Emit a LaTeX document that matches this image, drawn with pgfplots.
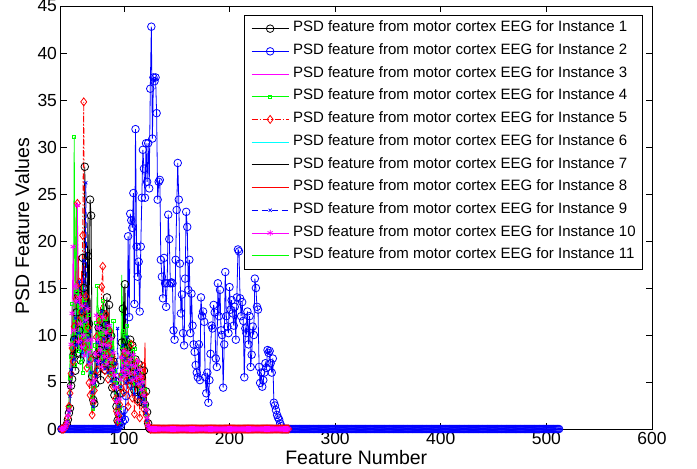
\documentclass[border=0pt]{standalone}
\usepackage{fontspec}
\setmainfont{Liberation Sans}
\usepackage{pgfplots}
\pgfplotsset{compat=1.18}
\usepackage{pgfplotstable}
\definecolor{mblack}{rgb}{0,0,0}
\definecolor{mblue}{rgb}{0,0,1}
\definecolor{mmag}{rgb}{1,0,1}
\definecolor{mgreen}{rgb}{0,1,0}
\definecolor{mred}{rgb}{1,0,0}
\definecolor{mcyan}{rgb}{0,1,1}

\pgfplotstableread[row sep=\\]{x y\\
125 0\\126 0\\127 0\\128 0\\129 0\\130 0\\131 0\\132 0\\133 0\\134 0\\
135 0\\136 0\\137 0\\138 0\\139 0\\140 0\\141 0\\142 0\\143 0\\144 0\\
145 0\\146 0\\147 0\\148 0\\149 0\\150 0\\151 0\\152 0\\153 0\\154 0\\
155 0\\156 0\\157 0\\158 0\\159 0\\160 0\\161 0\\162 0\\163 0\\164 0\\
165 0\\166 0\\167 0\\168 0\\169 0\\170 0\\171 0\\172 0\\173 0\\174 0\\
175 0\\176 0\\177 0\\178 0\\179 0\\180 0\\181 0\\182 0\\183 0\\184 0\\
185 0\\186 0\\187 0\\188 0\\189 0\\190 0\\191 0\\192 0\\193 0\\194 0\\
195 0\\196 0\\197 0\\198 0\\199 0\\200 0\\201 0\\202 0\\203 0\\204 0\\
205 0\\206 0\\207 0\\208 0\\209 0\\210 0\\211 0\\212 0\\213 0\\214 0\\
215 0\\216 0\\217 0\\218 0\\219 0\\220 0\\221 0\\222 0\\223 0\\224 0\\
225 0\\226 0\\227 0\\228 0\\229 0\\230 0\\231 0\\232 0\\233 0\\234 0\\
235 0\\236 0\\237 0\\238 0\\239 0\\240 0\\241 0\\242 0\\243 0\\244 0\\
245 0\\246 0\\247 0\\248 0\\249 0\\250 0\\251 0\\252 0\\253 0\\254 0\\
255 0\\256 0\\
}\zerotail

\pgfplotstableread[row sep=\\]{x y\\
250 0\\251 0\\252 0\\253 0\\254 0\\255 0\\256 0\\257 0\\258 0\\259 0\\
260 0\\261 0\\262 0\\263 0\\264 0\\265 0\\266 0\\267 0\\268 0\\269 0\\
270 0\\271 0\\272 0\\273 0\\274 0\\275 0\\276 0\\277 0\\278 0\\279 0\\
280 0\\281 0\\282 0\\283 0\\284 0\\285 0\\286 0\\287 0\\288 0\\289 0\\
290 0\\291 0\\292 0\\293 0\\294 0\\295 0\\296 0\\297 0\\298 0\\299 0\\
300 0\\301 0\\302 0\\303 0\\304 0\\305 0\\306 0\\307 0\\308 0\\309 0\\
310 0\\311 0\\312 0\\313 0\\314 0\\315 0\\316 0\\317 0\\318 0\\319 0\\
320 0\\321 0\\322 0\\323 0\\324 0\\325 0\\326 0\\327 0\\328 0\\329 0\\
330 0\\331 0\\332 0\\333 0\\334 0\\335 0\\336 0\\337 0\\338 0\\339 0\\
340 0\\341 0\\342 0\\343 0\\344 0\\345 0\\346 0\\347 0\\348 0\\349 0\\
350 0\\351 0\\352 0\\353 0\\354 0\\355 0\\356 0\\357 0\\358 0\\359 0\\
360 0\\361 0\\362 0\\363 0\\364 0\\365 0\\366 0\\367 0\\368 0\\369 0\\
370 0\\371 0\\372 0\\373 0\\374 0\\375 0\\376 0\\377 0\\378 0\\379 0\\
380 0\\381 0\\382 0\\383 0\\384 0\\385 0\\386 0\\387 0\\388 0\\389 0\\
390 0\\391 0\\392 0\\393 0\\394 0\\395 0\\396 0\\397 0\\398 0\\399 0\\
400 0\\401 0\\402 0\\403 0\\404 0\\405 0\\406 0\\407 0\\408 0\\409 0\\
410 0\\411 0\\412 0\\413 0\\414 0\\415 0\\416 0\\417 0\\418 0\\419 0\\
420 0\\421 0\\422 0\\423 0\\424 0\\425 0\\426 0\\427 0\\428 0\\429 0\\
430 0\\431 0\\432 0\\433 0\\434 0\\435 0\\436 0\\437 0\\438 0\\439 0\\
440 0\\441 0\\442 0\\443 0\\444 0\\445 0\\446 0\\447 0\\448 0\\449 0\\
450 0\\451 0\\452 0\\453 0\\454 0\\455 0\\456 0\\457 0\\458 0\\459 0\\
460 0\\461 0\\462 0\\463 0\\464 0\\465 0\\466 0\\467 0\\468 0\\469 0\\
470 0\\471 0\\472 0\\473 0\\474 0\\475 0\\476 0\\477 0\\478 0\\479 0\\
480 0\\481 0\\482 0\\483 0\\484 0\\485 0\\486 0\\487 0\\488 0\\489 0\\
490 0\\491 0\\492 0\\493 0\\494 0\\495 0\\496 0\\497 0\\498 0\\499 0\\
500 0\\501 0\\502 0\\503 0\\504 0\\505 0\\506 0\\507 0\\508 0\\509 0\\
510 0\\511 0\\512 0\\
}\bluetail

\begin{document}
\begin{tikzpicture}
\begin{axis}[
  scale only axis, width=591.5pt, height=423pt,
  xmin=40, xmax=600, ymin=0, ymax=45,
  xtick={100,200,300,400,500,600},
  ytick={0,5,10,15,20,25,30,35,40,45},
  tick align=inside, major tick length=6pt,
  axis line style={line width=0.6pt},
  every tick/.style={black, line width=0.6pt},
  /pgf/number format/assume math mode=true,
  tick label style={font=\fontsize{17.5}{20}\selectfont},
  xlabel={Feature Number}, ylabel={PSD Feature Values},
  label style={font=\fontsize{19.5}{22}\selectfont},
  xlabel style={at={(axis description cs:0.5,-0.068)}, anchor=center},
  ylabel style={at={(axis description cs:-0.065,0.48)}, anchor=center},
  legend cell align=left,
  legend image code/.code={\draw[mark repeat=2,mark phase=2,#1] plot coordinates {(0pt,0pt) (18.5pt,0pt) (37pt,0pt)};},
  legend style={at={(1,1)}, anchor=north east, xshift=-9pt, yshift=-9pt,
    draw=black, line width=0.6pt, fill=white,
    font=\fontsize{15}{18}\selectfont,
    inner xsep=7pt, inner ysep=2pt, row sep=0pt, column sep=4pt,
    nodes={inner xsep=0pt, inner ysep=0pt, text height=14.5pt, text depth=8.2pt}},
  every axis plot/.append style={line width=0.8pt},
]
% Instance 1
\addplot[mblack, mark=o, mark size=3.8pt] coordinates {(41,0)(42,0)(43,0)(44,0.1)(45,0.2)(46,0.5)(47,1.0)(48,1.7)(49,2.2)(50,4.6)(51,5.3)(52,7.8)(53,9.5)(54,6.2)(55,12.4)(56,8.1)(57,14.2)(58,10.5)(59,7.3)(60,11.8)(61,18.2)(62,15.0)(63,27.9)(64,12.6)(65,9.8)(66,18.4)(67,11.2)(68,24.4)(69,22.7)(70,5.6)(71,3.1)(72,2.7)(73,4.8)(74,7.9)(75,6.1)(76,10.8)(77,8.4)(78,5.2)(79,12.3)(80,7.7)(81,9.6)(82,6.3)(83,11.1)(84,14.0)(85,8.8)(86,13.2)(87,6.5)(88,9.9)(89,4.4)(90,7.2)(91,3.6)(92,5.1)(93,2.4)(94,0.9)(95,1.6)(96,0.7)(97,3.8)(98,9.2)(99,12.8)(100,8.6)(101,15.4)(102,9.4)(103,6.1)(104,8.7)(105,7.3)(106,9.5)(107,5.2)(108,8.9)(109,6.6)(110,4.1)(111,7.4)(112,5.8)(113,3.2)(114,6.9)(115,4.7)(116,2.9)(117,5.5)(118,3.7)(119,6.2)(120,2.6)(121,4.0)(122,1.8)(123,0.6)(124,0.1)(125,0)};
\addlegendentry{PSD feature from motor cortex EEG for Instance 1}
\addplot[mblack, mark=o, mark size=3.8pt, forget plot] table {\zerotail};
% Instance 2
\addplot[mblue, mark=o, mark size=3.8pt] coordinates {(41,0)(42,0)(43,0)(44,0)(45,0)(46,0)(47,0)(48,0)(49,0)(50,0)
(51,0)(52,0)(53,0)(54,0)(55,0)(56,0)(57,0)(58,0)(59,0)(60,0)
(61,0)(62,0)(63,0)(64,0)(65,0)(66,0)(67,0)(68,0)(69,0)(70,0)
(71,0)(72,0)(73,0)(74,0)(75,0)(76,0)(77,0)(78,0)(79,0)(80,0)
(81,0)(82,0)(83,0)(84,0)(85,0)(86,0)(87,0)(88,0)(89,0)(90,0)
(91,0)(92,0)(93,0)(94,0)
(95,0.3)(96,0.6)(97,0.4)(98,1.2)(99,0.8)(100,2.0)(101,1.0)(102,3.5)(103,7.0)(104,20.5)
(105,11.9)(106,22.9)(107,22.2)(108,21.4)(109,25.1)(110,13.3)(111,31.9)(112,19.4)(113,16.2)(114,17.8)
(115,12.5)(116,19.4)(117,24.6)(118,29.7)(119,27.7)(120,24.6)(121,30.4)(122,26.3)(123,30.4)(124,25.6)
(125,36.2)(126,42.8)(127,30.9)(128,37.4)(129,37.0)(130,37.4)(131,33.6)(132,24.4)(133,26.3)(134,26.5)
(135,18.0)(136,16.2)(137,13.9)(138,18.2)(139,15.5)(140,13.0)(141,15.5)(142,22.8)(143,20.2)(144,15.5)
(145,15.6)(146,15.5)(147,10.5)(148,9.5)(149,18.0)(150,23.3)(151,28.3)(152,24.4)(153,17.6)(154,12.3)
(155,14.3)(156,10.2)(157,8.9)(158,16.0)(159,23.1)(160,21.5)(161,14.8)(162,18.0)(163,10.2)(164,14.4)
(165,11.0)(166,9.0)(167,8.2)(168,6.8)(169,6.0)(170,5.5)(171,9.0)(172,5.2)(173,14.0)(174,12.0)
(175,12.5)(176,11.4)(177,5.5)(178,3.8)(179,6.0)(180,2.8)(181,5.2)(182,8.0)(183,11.0)(184,10.7)
(185,13.2)(186,12.4)(187,7.5)(188,6.6)(189,15.5)(190,12.0)(191,14.8)(192,10.5)(193,10.0)(194,4.4)
(195,9.0)(196,16.7)(197,12.0)(198,10.9)(199,10.2)(200,15.1)(201,12.7)(202,13.7)(203,12.3)(204,11.0)
(205,13.0)(206,9.5)(207,14.0)(208,19.1)(209,18.9)(210,13.9)(211,12.0)(212,13.5)(213,11.5)(214,5.5)
(215,10.7)(216,10.2)(217,12.5)(218,9.0)(219,12.0)(220,6.6)(221,7.9)(222,10.9)(223,10.0)(224,16.0)
(225,15.0)(226,13.0)(227,12.7)(228,6.6)(229,4.9)(230,6.0)(231,4.5)(232,5.2)(233,6.0)(234,7.0)
(235,6.5)(236,8.4)(237,8.1)(238,8.3)(239,7.0)(240,6.0)(241,7.5)(242,2.8)(243,2.5)(244,2.0)
(245,1.5)(246,1.2)(247,1.0)(248,0.6)(249,0.3)(250,0)};
\addlegendentry{PSD feature from motor cortex EEG for Instance 2}
\addplot[mblue, mark=o, mark size=3.8pt, forget plot] table {\bluetail};
% Instance 3
\addplot[mmag] coordinates {(41,0)(42,0)(43,0)(44,0)(45,0.1)(46,0.3)(47,0.8)(48,1.5)(49,3.2)(50,6.1)(51,9.0)(52,11.7)(53,8.4)(54,16.5)(55,13.1)(56,21.6)(57,12.2)(58,9.7)(59,14.8)(60,10.3)(61,16.1)(62,8.9)(63,13.5)(64,11.0)(65,7.6)(66,12.7)(67,9.1)(68,6.4)(69,8.8)(70,4.2)(71,2.6)(72,3.9)(73,6.8)(74,9.4)(75,7.1)(76,12.1)(77,8.2)(78,10.6)(79,6.9)(80,11.5)(81,8.0)(82,12.6)(83,7.4)(84,9.7)(85,5.9)(86,10.2)(87,7.8)(88,8.6)(89,6.0)(90,4.7)(91,6.4)(92,3.9)(93,2.1)(94,3.3)(95,1.2)(96,2.0)(97,4.1)(98,6.3)(99,8.1)(100,5.4)(101,9.0)(102,6.7)(103,7.9)(104,5.1)(105,8.3)(106,6.2)(107,7.1)(108,4.8)(109,7.8)(110,6.0)(111,5.3)(112,7.2)(113,4.6)(114,6.5)(115,5.7)(116,3.9)(117,6.1)(118,4.4)(119,3.5)(120,2.7)(121,2.0)(122,1.1)(123,0.4)(124,0.1)(125,0)};
\addlegendentry{PSD feature from motor cortex EEG for Instance 3}
\addplot[mmag, forget plot] table {\zerotail};
% Instance 4
\addplot[mgreen, mark=square, mark size=1.6pt] coordinates {(41,0)(42,0)(43,0)(44,0)(45,0.2)(46,0.4)(47,0.9)(48,2.2)(49,5.5)(50,7.7)(51,13.3)(52,9.4)(53,31.1)(54,6.8)(55,14.6)(56,10.2)(57,8.3)(58,12.9)(59,7.1)(60,9.8)(61,6.0)(62,11.4)(63,13.7)(64,8.5)(65,10.9)(66,6.7)(67,12.1)(68,8.3)(69,5.9)(70,3.4)(71,2.2)(72,4.6)(73,8.9)(74,11.3)(75,15.2)(76,9.6)(77,12.4)(78,7.3)(79,10.1)(80,13.6)(81,8.2)(82,6.9)(83,11.7)(84,9.0)(85,7.5)(86,10.6)(87,5.8)(88,9.2)(89,7.1)(90,11.5)(91,6.2)(92,4.9)(93,3.0)(94,1.8)(95,0.8)(96,2.3)(97,5.6)(98,8.7)(99,10.4)(100,7.2)(101,9.9)(102,6.4)(103,11.0)(104,8.1)(105,6.9)(106,9.3)(107,5.6)(108,7.8)(109,6.2)(110,8.5)(111,4.9)(112,7.0)(113,5.5)(114,6.6)(115,4.3)(116,5.9)(117,3.8)(118,5.0)(119,3.1)(120,4.2)(121,2.4)(122,1.3)(123,0.5)(124,0.1)(125,0)};
\addlegendentry{PSD feature from motor cortex EEG for Instance 4}
\addplot[mgreen, mark=square, mark size=1.6pt, forget plot] table {\zerotail};
% Instance 5
\addplot[mred, dash pattern=on 6pt off 2pt on 1.5pt off 2pt, mark=diamond, mark size=4pt, mark options={solid}] coordinates {(41,0)(42,0)(43,0)(44,0.1)(45,0.3)(46,0.6)(47,1.2)(48,2.4)(49,3.8)(50,5.9)(51,8.6)(52,7.2)(53,10.9)(54,9.1)(55,13.8)(56,24.0)(57,11.5)(58,15.6)(59,9.3)(60,12.4)(61,20.6)(62,34.8)(63,8.7)(64,14.1)(65,6.5)(66,10.8)(67,4.9)(68,3.6)(69,7.4)(70,1.5)(71,2.8)(72,4.1)(73,5.7)(74,9.8)(75,6.3)(76,8.1)(77,11.6)(78,7.0)(79,15.1)(80,17.3)(81,9.4)(82,6.2)(83,12.2)(84,7.9)(85,5.3)(86,8.8)(87,10.4)(88,6.1)(89,7.7)(90,4.5)(91,6.9)(92,3.2)(93,1.9)(94,0.8)(95,1.4)(96,2.6)(97,4.4)(98,5.8)(99,7.6)(100,3.9)(101,8.2)(102,5.1)(103,6.8)(104,2.4)(105,7.5)(106,4.6)(107,9.0)(108,3.3)(109,6.1)(110,1.6)(111,5.4)(112,7.1)(113,2.9)(114,4.8)(115,1.2)(116,5.6)(117,3.4)(118,6.7)(119,2.1)(120,3.7)(121,1.5)(122,0.8)(123,0.3)(124,0.1)(125,0)};
\addlegendentry{PSD feature from motor cortex EEG for Instance 5}
\addplot[mred, dash pattern=on 6pt off 2pt on 1.5pt off 2pt, mark=diamond, mark size=4pt, mark options={solid}, forget plot] table {\zerotail};
% Instance 6
\addplot[mcyan] coordinates {(41,0)(42,0)(43,0)(44,0)(45,0.1)(46,0.3)(47,0.7)(48,1.6)(49,3.0)(50,5.2)(51,7.9)(52,10.6)(53,8.3)(54,12.8)(55,9.5)(56,14.4)(57,11.2)(58,8.0)(59,13.1)(60,9.7)(61,7.4)(62,11.9)(63,8.6)(64,10.3)(65,6.8)(66,9.2)(67,5.5)(68,7.8)(69,4.6)(70,3.3)(71,1.9)(72,3.6)(73,6.4)(74,8.7)(75,5.9)(76,10.1)(77,7.5)(78,9.3)(79,12.9)(80,8.2)(81,6.6)(82,10.8)(83,7.2)(84,9.6)(85,5.4)(86,8.1)(87,6.8)(88,11.2)(89,5.0)(90,7.3)(91,4.1)(92,3.4)(93,2.0)(94,1.1)(95,2.7)(96,1.5)(97,3.9)(98,5.2)(99,7.4)(100,4.8)(101,6.9)(102,8.5)(103,5.6)(104,7.0)(105,4.2)(106,6.5)(107,5.1)(108,7.7)(109,3.8)(110,6.0)(111,4.5)(112,5.7)(113,3.3)(114,6.3)(115,4.0)(116,2.8)(117,4.9)(118,3.1)(119,4.4)(120,2.2)(121,1.9)(122,1.0)(123,0.4)(124,0.1)(125,0)};
\addlegendentry{PSD feature from motor cortex EEG for Instance 6}
\addplot[mcyan, forget plot] table {\zerotail};
% Instance 7
\addplot[mblack] coordinates {(41,0)(42,0)(43,0)(44,0.1)(45,0.2)(46,0.4)(47,0.9)(48,1.9)(49,3.3)(50,5.0)(51,6.7)(52,9.3)(53,12.5)(54,8.1)(55,10.9)(56,15.8)(57,9.0)(58,13.4)(59,7.5)(60,11.1)(61,8.4)(62,14.6)(63,10.2)(64,7.9)(65,12.3)(66,22.5)(67,8.8)(68,13.9)(69,6.2)(70,4.0)(71,2.3)(72,3.5)(73,7.1)(74,5.5)(75,9.0)(76,6.8)(77,11.3)(78,8.5)(79,7.2)(80,10.1)(81,13.5)(82,6.4)(83,9.2)(84,7.6)(85,12.0)(86,8.3)(87,5.7)(88,10.7)(89,6.9)(90,5.3)(91,8.0)(92,4.2)(93,2.2)(94,0.6)(95,1.8)(96,3.1)(97,5.9)(98,10.2)(99,8.1)(100,15.0)(101,7.3)(102,9.1)(103,5.9)(104,7.8)(105,6.4)(106,8.6)(107,4.9)(108,7.2)(109,5.3)(110,6.8)(111,4.1)(112,6.0)(113,3.6)(114,5.4)(115,4.4)(116,3.0)(117,4.9)(118,2.7)(119,3.9)(120,2.3)(121,1.8)(122,0.9)(123,0.3)(124,0.1)(125,0)};
\addlegendentry{PSD feature from motor cortex EEG for Instance 7}
\addplot[mblack, forget plot] table {\zerotail};
% Instance 8
\addplot[mred] coordinates {(41,0)(42,0)(43,0)(44,0)(45,0.2)(46,0.5)(47,1.1)(48,2.2)(49,4.1)(50,6.8)(51,10.1)(52,12.7)(53,9.2)(54,15.3)(55,24.1)(56,11.6)(57,18.4)(58,9.9)(59,13.2)(60,16.8)(61,10.5)(62,12.0)(63,8.1)(64,14.7)(65,9.4)(66,11.3)(67,7.2)(68,10.6)(69,5.9)(70,3.8)(71,2.1)(72,4.3)(73,6.5)(74,8.8)(75,11.4)(76,7.6)(77,9.9)(78,13.0)(79,8.4)(80,10.7)(81,6.8)(82,9.4)(83,7.9)(84,11.8)(85,6.1)(86,8.5)(87,10.0)(88,5.6)(89,7.4)(90,6.3)(91,4.8)(92,3.5)(93,2.5)(94,1.3)(95,0.9)(96,2.1)(97,4.6)(98,6.9)(99,5.3)(100,8.4)(101,6.2)(102,7.6)(103,4.7)(104,8.0)(105,5.5)(106,6.8)(107,4.2)(108,7.3)(109,5.0)(110,6.1)(111,3.9)(112,5.6)(113,4.5)(114,6.6)(115,3.7)(116,5.2)(117,4.0)(118,6.3)(119,4.1)(120,9.2)(121,2.6)(122,1.4)(123,0.5)(124,0.1)(125,0)};
\addlegendentry{PSD feature from motor cortex EEG for Instance 8}
\addplot[mred, forget plot] table {\zerotail};
% Instance 9
\addplot[mblue, dash pattern=on 6pt off 4pt, mark=x, mark size=2.2pt, mark options={solid}] coordinates {(41,0)(42,0)(43,0)(44,0)(45,0.1)(46,0.4)(47,0.8)(48,1.8)(49,3.5)(50,6.3)(51,5.8)(52,9.6)(53,7.4)(54,11.8)(55,8.9)(56,13.5)(57,10.2)(58,15.7)(59,9.1)(60,12.6)(61,8.0)(62,17.9)(63,11.4)(64,26.2)(65,13.0)(66,9.7)(67,7.1)(68,10.4)(69,6.0)(70,3.9)(71,2.4)(72,4.8)(73,7.3)(74,5.6)(75,9.2)(76,6.9)(77,10.8)(78,8.0)(79,12.5)(80,7.1)(81,9.6)(82,6.4)(83,11.2)(84,8.7)(85,6.0)(86,9.9)(87,7.5)(88,5.1)(89,8.3)(90,6.2)(91,4.6)(92,7.0)(93,3.1)(94,10.7)(95,2.4)(96,0.9)(97,4.5)(98,6.4)(99,8.9)(100,5.8)(101,7.5)(102,4.9)(103,9.8)(104,6.6)(105,5.2)(106,7.9)(107,4.3)(108,6.8)(109,5.5)(110,3.7)(111,6.2)(112,4.8)(113,5.9)(114,3.4)(115,5.0)(116,4.1)(117,2.9)(118,4.6)(119,3.2)(120,2.5)(121,1.7)(122,0.9)(123,0.3)(124,0.1)(125,0)};
\addlegendentry{PSD feature from motor cortex EEG for Instance 9}
\addplot[mblue, dash pattern=on 6pt off 4pt, mark=x, mark size=2.2pt, mark options={solid}, forget plot] table {\zerotail};
% Instance 10
\addplot[mmag, mark=asterisk, mark size=3pt] coordinates {(41,0)(42,0)(43,0)(44,0.1)(45,0.3)(46,0.7)(47,1.4)(48,2.0)(49,4.5)(50,9.0)(51,12.3)(52,19.4)(53,10.5)(54,15.2)(55,13.6)(56,23.8)(57,9.3)(58,14.0)(59,11.2)(60,8.7)(61,13.1)(62,10.0)(63,7.8)(64,11.6)(65,9.4)(66,12.8)(67,8.2)(68,6.9)(69,9.5)(70,4.9)(71,3.0)(72,5.2)(73,8.0)(74,12.1)(75,9.5)(76,7.2)(77,10.7)(78,8.4)(79,6.6)(80,11.9)(81,9.0)(82,7.7)(83,10.3)(84,6.9)(85,8.9)(86,11.0)(87,7.4)(88,9.6)(89,6.3)(90,8.1)(91,5.7)(92,4.4)(93,2.9)(94,1.7)(95,1.0)(96,3.2)(97,5.3)(98,7.6)(99,6.2)(100,8.3)(101,5.7)(102,7.0)(103,6.4)(104,8.1)(105,5.9)(106,7.4)(107,6.8)(108,5.2)(109,7.9)(110,6.0)(111,6.7)(112,5.4)(113,7.2)(114,4.8)(115,6.3)(116,5.6)(117,4.2)(118,5.0)(119,3.6)(120,2.8)(121,2.1)(122,1.2)(123,0.4)(124,0.1)(125,0)};
\addlegendentry{PSD feature from motor cortex EEG for Instance 10}
\addplot[mmag, mark=asterisk, mark size=3pt, forget plot] table {\zerotail};
% Instance 11
\addplot[mgreen] coordinates {(41,0)(42,0)(43,0)(44,0)(45,0.1)(46,0.3)(47,0.9)(48,2.6)(49,7.4)(50,10.1)(51,8.2)(52,12.0)(53,9.7)(54,16.4)(55,23.5)(56,11.3)(57,14.9)(58,8.6)(59,12.2)(60,10.1)(61,15.5)(62,9.0)(63,11.8)(64,7.7)(65,13.0)(66,8.9)(67,10.6)(68,6.3)(69,8.0)(70,3.7)(71,2.0)(72,4.4)(73,7.8)(74,10.5)(75,8.1)(76,12.9)(77,9.3)(78,11.7)(79,7.0)(80,10.0)(81,13.1)(82,8.5)(83,6.8)(84,9.7)(85,7.9)(86,10.9)(87,6.2)(88,8.7)(89,5.5)(90,9.4)(91,6.6)(92,4.0)(93,2.6)(94,1.4)(95,3.0)(96,1.1)(97,6.0)(98,16.4)(99,9.2)(100,7.1)(101,10.3)(102,6.5)(103,8.8)(104,5.8)(105,7.7)(106,6.3)(107,9.0)(108,5.1)(109,7.4)(110,4.6)(111,6.8)(112,5.3)(113,6.1)(114,4.0)(115,5.8)(116,3.5)(117,4.7)(118,3.0)(119,4.2)(120,2.4)(121,1.6)(122,0.8)(123,0.3)(124,0.1)(125,0)};
\addlegendentry{PSD feature from motor cortex EEG for Instance 11}
\addplot[mgreen, forget plot] table {\zerotail};
\end{axis}
\pgfresetboundingbox
\path ([shift={(-60.5pt,-39pt)}]current axis.south west) rectangle ([shift={(45pt,6pt)}]current axis.north east);
\end{tikzpicture}
\end{document}
